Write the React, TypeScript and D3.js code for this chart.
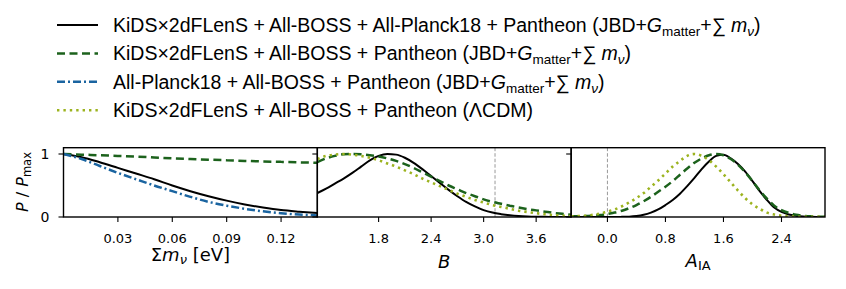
import React from 'react';
import * as d3 from 'd3';

const W = 846;
const H = 289;

// sum of neutrino masses panel
const mnuGrid = [0, 0.01, 0.02, 0.03, 0.04, 0.05, 0.06, 0.07, 0.08, 0.09, 0.1, 0.11, 0.12, 0.13, 0.14];
const mnuAll = [1.0, 0.95, 0.87, 0.78, 0.69, 0.6, 0.5, 0.41, 0.33, 0.26, 0.2, 0.15, 0.11, 0.085, 0.065];
const mnuKids = [1.0, 0.99, 0.98, 0.97, 0.96, 0.945, 0.93, 0.92, 0.91, 0.9, 0.89, 0.882, 0.875, 0.867, 0.86];
const mnuPlanck = [1.0, 0.92, 0.81, 0.7, 0.6, 0.5, 0.41, 0.32, 0.24, 0.18, 0.13, 0.09, 0.06, 0.04, 0.025];
const mnuTicks = [0.03, 0.06, 0.09, 0.12];

// B panel
const bGrid = [1.1, 1.2, 1.3, 1.4, 1.5, 1.6, 1.7, 1.8, 1.9, 2.0, 2.1, 2.2, 2.3, 2.4, 2.5, 2.6, 2.7, 2.8, 2.9, 3.0, 3.1, 3.2, 3.3, 3.4, 3.5, 3.6, 3.7, 3.8, 3.9, 4.0];
const bAll = [0.38, 0.45, 0.53, 0.61, 0.7, 0.8, 0.9, 0.97, 1.0, 0.99, 0.94, 0.86, 0.76, 0.65, 0.54, 0.43, 0.33, 0.24, 0.17, 0.11, 0.07, 0.045, 0.027, 0.015, 0.008, 0.004, 0.002, 0.001, 0, 0];
const bKids = [0.87, 0.93, 0.97, 0.995, 1.0, 0.995, 0.98, 0.96, 0.93, 0.89, 0.84, 0.78, 0.71, 0.64, 0.57, 0.5, 0.44, 0.38, 0.33, 0.28, 0.24, 0.21, 0.18, 0.15, 0.125, 0.105, 0.085, 0.065, 0.05, 0.035];
const bLcdm = [0.92, 0.97, 0.99, 1.0, 0.99, 0.97, 0.94, 0.9, 0.85, 0.8, 0.74, 0.68, 0.61, 0.55, 0.49, 0.43, 0.37, 0.32, 0.27, 0.23, 0.19, 0.16, 0.13, 0.1, 0.08, 0.06, 0.045, 0.03, 0.02, 0.015];
const bTicks = [1.8, 2.4, 3.0, 3.6];
const bMark = 3.13;

// A_IA panel
const aGrid = [-0.5, -0.4, -0.3, -0.2, -0.1, 0.0, 0.1, 0.2, 0.3, 0.4, 0.5, 0.6, 0.7, 0.8, 0.9, 1.0, 1.1, 1.2, 1.3, 1.4, 1.5, 1.6, 1.7, 1.8, 1.9, 2.0, 2.1, 2.2, 2.3, 2.4, 2.5, 2.6, 2.7, 2.8, 2.9, 3.0];
const aAll = [0, 0, 0, 0, 0, 0, 0, 0.002, 0.005, 0.015, 0.035, 0.07, 0.12, 0.19, 0.27, 0.37, 0.49, 0.62, 0.76, 0.88, 0.97, 0.99, 0.93, 0.84, 0.72, 0.57, 0.41, 0.27, 0.15, 0.08, 0.04, 0.02, 0.008, 0.003, 0.001, 0];
const aKids = [0.01, 0.01, 0.015, 0.02, 0.03, 0.05, 0.07, 0.1, 0.14, 0.19, 0.25, 0.32, 0.4, 0.48, 0.57, 0.67, 0.77, 0.86, 0.93, 0.98, 1.0, 0.98, 0.92, 0.83, 0.71, 0.57, 0.42, 0.29, 0.18, 0.11, 0.065, 0.035, 0.02, 0.01, 0.005, 0.002];
const aLcdm = [0.01, 0.015, 0.02, 0.035, 0.055, 0.085, 0.12, 0.17, 0.23, 0.3, 0.38, 0.48, 0.58, 0.69, 0.8, 0.89, 0.97, 1.0, 0.97, 0.9, 0.8, 0.68, 0.55, 0.42, 0.3, 0.2, 0.13, 0.07, 0.04, 0.02, 0.01, 0.005, 0.002, 0.002, 0.002, 0.002];
const aTicks = [0.0, 0.8, 1.6, 2.4];
const aMark = 0;

const seriesLabels = [
  'KiDS×2dFLenS + All-BOSS + All-Planck18 + Pantheon',
  'KiDS×2dFLenS + All-BOSS + Pantheon',
  'All-Planck18 + All-BOSS + Pantheon',
  'KiDS×2dFLenS + All-BOSS + Pantheon',
];
const seriesModel = ['jbd', 'jbd', 'jbd', 'lcdm'];
const seriesColors = ['#000000', '#1c621c', '#1a64a0', '#9cb31f'];
const seriesDash = ['', '8,4.5', '8,3,2,3', '2.4,4'];
const seriesWidth = [2, 2.5, 2.5, 2.6];

const yTicks = [0, 1];

const panels = [
  { grid: mnuGrid, domain: [0, 0.14], ticks: mnuTicks, fmt: '.2f', curves: [[0, mnuAll], [1, mnuKids], [2, mnuPlanck]], mark: null as number | null },
  { grid: bGrid, domain: [1.1, 4.0], ticks: bTicks, fmt: '.1f', curves: [[0, bAll], [1, bKids], [3, bLcdm]], mark: bMark },
  { grid: aGrid, domain: [-0.5, 3.0], ticks: aTicks, fmt: '.1f', curves: [[0, aAll], [1, aKids], [3, aLcdm]], mark: aMark },
];

const plotLeft = 63.5;
const plotRight = 825;
const plotTop = 147.7;
const plotBottom = 217;
const panelW = (plotRight - plotLeft) / 3;

const tickFont = 'DejaVu Sans, sans-serif';
const legendFont = 'Liberation Sans, Arial, sans-serif';

function ModelSuffix({ model }: { model: string }) {
  if (model === 'lcdm') return <tspan> (ΛCDM)</tspan>;
  return (
    <>
      <tspan> (JBD+</tspan>
      <tspan fontStyle="italic">G</tspan>
      <tspan fontSize={13.5} dy={4}>matter</tspan>
      <tspan dy={-4}>+∑ </tspan>
      <tspan fontStyle="italic">m</tspan>
      <tspan fontSize={13.5} fontStyle="italic" dy={4}>ν</tspan>
      <tspan dy={-4}>)</tspan>
    </>
  );
}

export default function App() {
  const y = d3.scaleLinear().domain([0, 1.1]).range([plotBottom, plotTop]);

  return (
    <svg width={W} height={H} style={{ position: 'absolute', left: 0, top: 0, background: '#fff' }}>
      <defs>
        {panels.map((p, i) => (
          <clipPath id={`clip${i}`} key={i}>
            <rect x={plotLeft + i * panelW} y={plotTop} width={panelW} height={plotBottom - plotTop} />
          </clipPath>
        ))}
      </defs>

      {/* legend */}
      <g>
        {seriesLabels.map((lab, i) => {
          const cy = 25 + i * 28.4;
          return (
            <g key={i}>
              <line x1={57} x2={98} y1={cy} y2={cy} stroke={seriesColors[i]} strokeWidth={seriesWidth[i]} strokeDasharray={seriesDash[i]} />
              <text x={113} y={cy + 7} fontFamily={legendFont} fontSize={19.5} fill="#000" style={{ whiteSpace: 'pre' }}>
                <tspan>{lab}</tspan>
                <ModelSuffix model={seriesModel[i]} />
              </text>
            </g>
          );
        })}
      </g>

      {panels.map((p, i) => {
        const x0 = plotLeft + i * panelW;
        const x = d3.scaleLinear().domain(p.domain).range([x0, x0 + panelW]);
        const fmt = d3.format(p.fmt);
        return (
          <g key={i}>
            <g clipPath={`url(#clip${i})`}>
              {p.mark !== null && (
                <line x1={x(p.mark)} x2={x(p.mark)} y1={plotTop} y2={plotBottom} stroke="#999" strokeWidth={1} strokeDasharray="3.5,2" />
              )}
              {p.curves.map(([s, vals]) => {
                const vs = vals as number[];
                const line = d3.line<number>()
                  .x((_, k) => x(p.grid[k]))
                  .y((d) => y(d))
                  .curve(d3.curveMonotoneX);
                const si = s as number;
                return (
                  <path key={si} d={line(vs) || ''} fill="none" stroke={seriesColors[si]} strokeWidth={seriesWidth[si]} strokeDasharray={seriesDash[si]} />
                );
              })}
            </g>
            <rect x={x0} y={plotTop} width={panelW} height={plotBottom - plotTop} fill="none" stroke="#000" strokeWidth={1.4} />
            {p.ticks.map((t) => (
              <g key={t}>
                <line x1={x(t)} x2={x(t)} y1={plotBottom} y2={plotBottom + 5} stroke="#000" strokeWidth={1.1} />
                <text x={x(t)} y={243} textAnchor="middle" fontFamily={tickFont} fontSize={13} fill="#000">{fmt(t)}</text>
              </g>
            ))}
            {yTicks.map((t) => (
              <g key={t}>
                <line x1={x0 - 5} x2={x0} y1={y(t)} y2={y(t)} stroke="#000" strokeWidth={1.1} />
                {i === 0 && (
                  <text x={x0 - 14} y={y(t) + 5} textAnchor="end" fontFamily={tickFont} fontSize={14} fill="#000">{t}</text>
                )}
              </g>
            ))}
          </g>
        );
      })}

      {/* axis labels */}
      <text x={plotLeft + panelW / 2} y={261} textAnchor="middle" fontFamily={tickFont} fontSize={18} fill="#000">
        <tspan>Σ</tspan>
        <tspan fontStyle="italic">m</tspan>
        <tspan fontStyle="italic" fontSize={13} dy={3}>ν</tspan>
        <tspan dy={-3}> [eV]</tspan>
      </text>
      <text x={plotLeft + panelW * 1.5} y={268} textAnchor="middle" fontFamily={tickFont} fontSize={18} fontStyle="italic" fill="#000">B</text>
      <text x={plotLeft + panelW * 2.5} y={267} textAnchor="middle" fontFamily={tickFont} fontSize={18} fill="#000">
        <tspan fontStyle="italic">A</tspan>
        <tspan fontSize={13} dy={3}>IA</tspan>
      </text>
      <text transform="translate(28,182) rotate(-90)" textAnchor="middle" fontFamily={tickFont} fontSize={16} fill="#000">
        <tspan fontStyle="italic">P</tspan>
        <tspan> / </tspan>
        <tspan fontStyle="italic">P</tspan>
        <tspan fontSize={11.5} dy={3}>max</tspan>
      </text>
    </svg>
  );
}
